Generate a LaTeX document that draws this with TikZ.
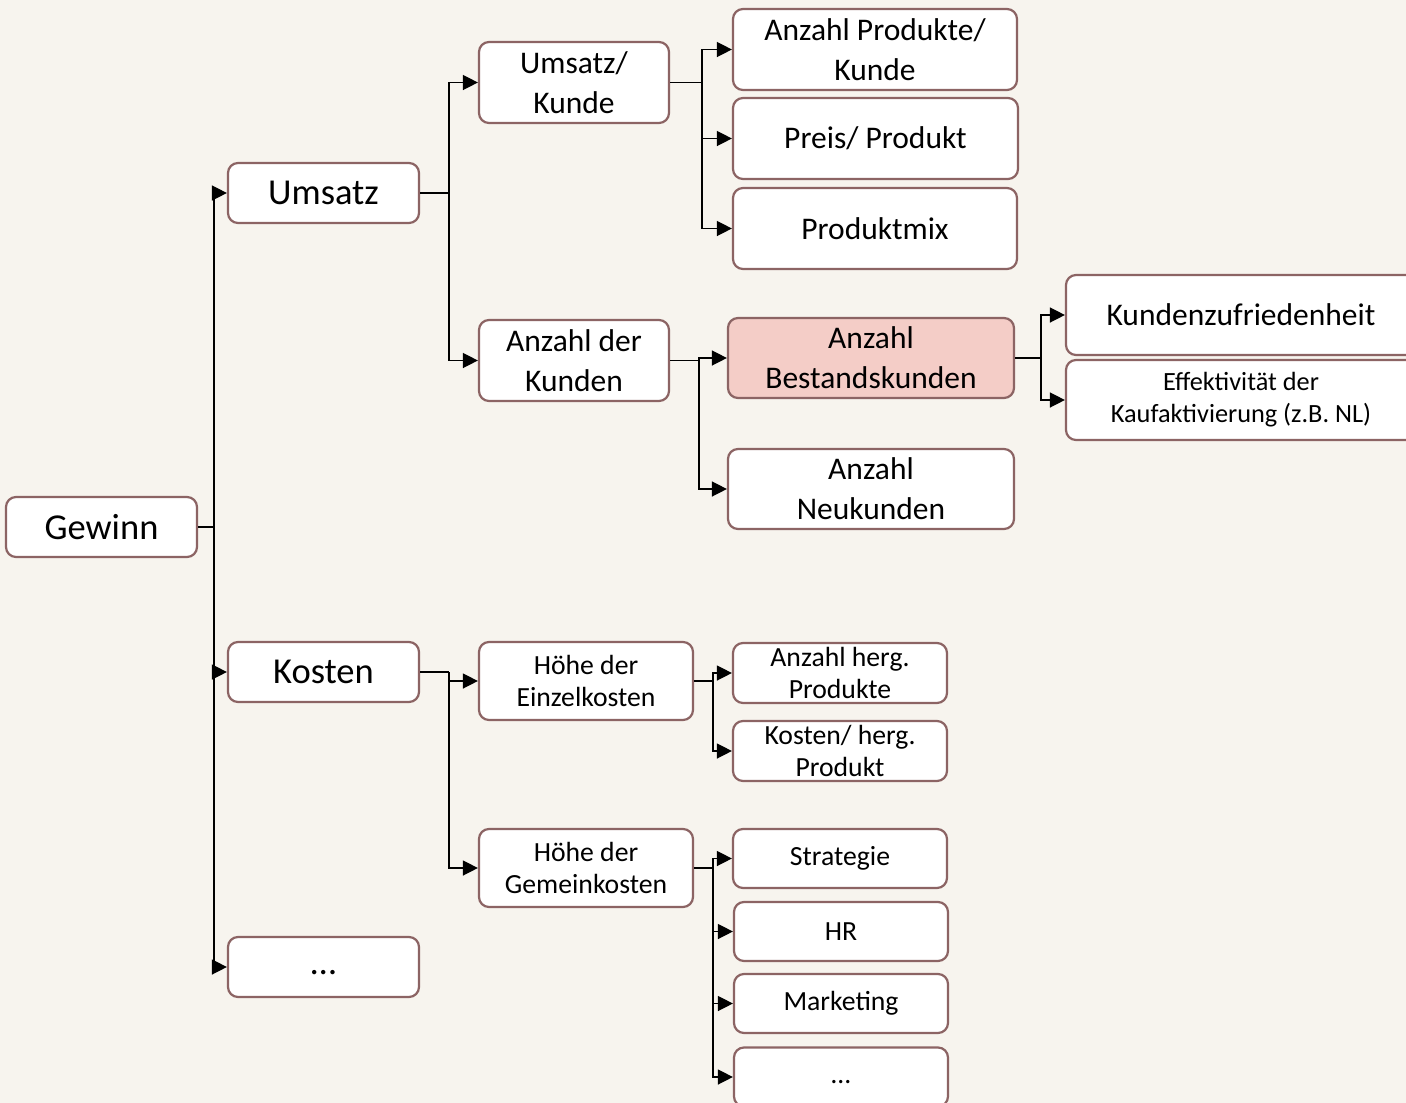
\documentclass[tikz,border=0pt]{standalone}
\usepackage{fontspec}
\setmainfont{Carlito}
\usetikzlibrary{arrows.meta}
\definecolor{bgc}{HTML}{F7F4EE}
\definecolor{boxc}{HTML}{8C6464}
\definecolor{pinkc}{HTML}{F4CDC7}
\newcommand{\fbig}{\fontsize{36.5}{44}\selectfont}
\newcommand{\fmed}{\fontsize{31.5}{40}\selectfont}
\newcommand{\fsml}{\fontsize{27.7}{32}\selectfont}
\newcommand{\ftny}{\fontsize{26.3}{32}\selectfont}
\begin{document}
\begin{tikzpicture}[x=1pt,y=-1pt,
  box/.style={draw=boxc, line width=2.2pt, rounded corners=10pt, fill=white,
    align=center, inner sep=0pt, text=black},
  bx/.style 2 args={box, minimum width=#1pt, minimum height=#2pt},
  conn/.style={line width=1.4pt, draw=black},
  arr/.style={conn, -{Triangle[length=15pt,width=15pt]}}]
\fill[bgc] (0,0) rectangle (1406,1103);
\clip (0,0) rectangle (1406,1103);
\useasboundingbox (0,0) rectangle (1406,1103);

% level 0
\node[bx={191}{60}, font=\fbig] (gew) at (101.5,527) {Gewinn};
% level 1
\node[bx={191}{60}, font=\fbig] (ums) at (323.5,193) {Umsatz};
\node[bx={191}{60}, font=\fbig] (kos) at (323.5,672) {Kosten};
\node[bx={191}{60}, font=\fbig] (dta) at (323.5,967) {\raisebox{-7pt}[0pt][0pt]{…}};
% level 2
\node[bx={190}{81}, font=\fmed] (umk) at (574,82.5) {Umsatz/\\Kunde};
\node[bx={190}{81}, font=\fmed] (adk) at (574,360.5) {Anzahl der\\Kunden};
\node[bx={214}{78}, font=\fsml] (hez) at (586,681) {Höhe der\\Einzelkosten};
\node[bx={214}{78}, font=\fsml] (hgk) at (586,868) {Höhe der\\Gemeinkosten};
% level 3
\node[bx={284}{81}, font=\fmed] (apk) at (875,49.5) {Anzahl Produkte/\\Kunde};
\node[bx={285}{81}, font=\fmed] (ppr) at (875.5,138.5) {Preis/ Produkt};
\node[bx={284}{81}, font=\fmed] (pmx) at (875,228.5) {Produktmix};
\node[bx={286}{80}, font=\fmed, fill=pinkc] (abk) at (871,358) {Anzahl\\Bestandskunden};
\node[bx={286}{80}, font=\fmed] (ank) at (871,489) {Anzahl\\Neukunden};
\node[bx={214}{60}, font=\fsml] (ahp) at (840,673) {Anzahl herg.\\Produkte};
\node[bx={214}{60}, font=\fsml] (khp) at (840,751) {Kosten/ herg.\\Produkt};
\node[bx={214}{59}, font=\fsml] (str) at (840,858.5) {Strategie};
\node[bx={214}{59}, font=\fsml] (hrn) at (841,931.5) {HR};
\node[bx={214}{59}, font=\fsml] (mkt) at (841,1003.5) {Marketing};
\node[bx={214}{59}, font=\fsml] (dtb) at (841,1077) {\raisebox{-6pt}[0pt][0pt]{…}};
% level 4
\node[bx={350}{80}, font=\fmed] (kzf) at (1241,315) {Kundenzufriedenheit};
\node[bx={350}{80}, font=\ftny] (eff) at (1241,400) {Effektivität der\\Kaufaktivierung (z.B. NL)};

% connectors
\draw[conn] (gew.east) -- ++(16,0) coordinate (b0);
\foreach \c in {ums,kos,dta} \draw[arr] (b0) |- (\c.west);

\draw[conn] (ums.east) -- ++(29,0) coordinate (b1);
\foreach \c in {umk,adk} \draw[arr] (b1) |- (\c.west);

\draw[conn] (kos.east) -- ++(29,0) coordinate (b2);
\foreach \c in {hez,hgk} \draw[arr] (b2) |- (\c.west);

\draw[conn] (umk.east) -- ++(32,0) coordinate (b3);
\foreach \c in {apk,ppr,pmx} \draw[arr] (b3) |- (\c.west);

\draw[conn] (adk.east) -- ++(29,0) coordinate (b4);
\foreach \c in {abk,ank} \draw[arr] (b4) |- (\c.west);

\draw[conn] (abk.east) -- ++(26,0) coordinate (b5);
\foreach \c in {kzf,eff} \draw[arr] (b5) |- (\c.west);

\draw[conn] (hez.east) -- ++(19,0) coordinate (b6);
\foreach \c in {ahp,khp} \draw[arr] (b6) |- (\c.west);

\draw[conn] (hgk.east) -- ++(19,0) coordinate (b7);
\foreach \c in {str,hrn,mkt,dtb} \draw[arr] (b7) |- (\c.west);
\end{tikzpicture}
\end{document}
